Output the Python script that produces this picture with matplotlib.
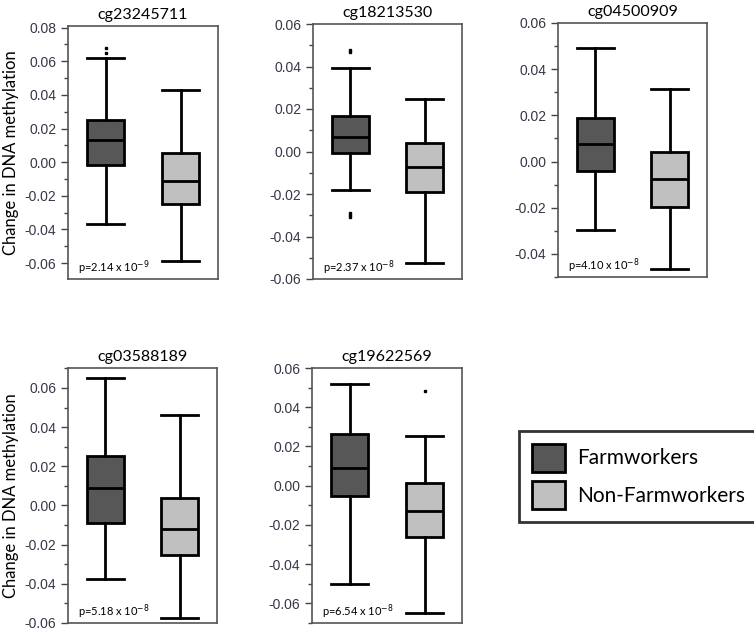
import numpy as np
import matplotlib
matplotlib.use('Agg')
import matplotlib.pyplot as plt
from matplotlib.patches import Patch
from matplotlib.ticker import MultipleLocator

plt.rcParams['font.family'] = 'Liberation Sans'

# probes, p-values and box statistics
probes = ['cg23245711', 'cg18213530', 'cg04500909', 'cg03588189', 'cg19622569']
p_labels = ['p=2.14 x 10$^{-9}$', 'p=2.37 x 10$^{-8}$', 'p=4.10 x 10$^{-8}$',
            'p=5.18 x 10$^{-8}$', 'p=6.54 x 10$^{-8}$']
groups = ['Farmworkers', 'Non-Farmworkers']

farm_whislo = [-0.037, -0.018, -0.0295, -0.0375, -0.050]
farm_q1 = [-0.0015, -0.0005, -0.004, -0.009, -0.005]
farm_med = [0.013, 0.007, 0.0075, 0.009, 0.009]
farm_q3 = [0.025, 0.0165, 0.019, 0.0255, 0.0265]
farm_whishi = [0.062, 0.0395, 0.049, 0.065, 0.052]
farm_fliers = [[0.068, 0.065], [0.047, 0.048, -0.029, -0.030, -0.031], [], [], []]

non_whislo = [-0.059, -0.0525, -0.0465, -0.0575, -0.065]
non_q1 = [-0.025, -0.019, -0.0195, -0.0255, -0.026]
non_med = [-0.011, -0.0075, -0.0075, -0.012, -0.013]
non_q3 = [0.0055, 0.004, 0.004, 0.004, 0.0015]
non_whishi = [0.043, 0.0245, 0.0315, 0.046, 0.0255]
non_fliers = [[], [], [], [], [0.0485]]

ylims = [(-0.0695, 0.081), (-0.06, 0.06), (-0.05, 0.06), (-0.06, 0.0702), (-0.07, 0.06)]
colors = ['#575757', '#c0c0c0']

W, H = 754, 634
# axes boxes in pixels: left, right, top, bottom
boxes_px = [(68, 218, 26, 279), (313, 462, 24, 279), (558, 707, 23, 277),
            (68, 217, 368, 623), (312, 462, 368, 623)]

fig = plt.figure(figsize=(W / 100, H / 100), dpi=100)

tick_color = '#3a3548'

for i, (l, r, t, b) in enumerate(boxes_px):
    ax = fig.add_axes([l / W, 1 - b / H, (r - l) / W, (b - t) / H])
    stats = [
        dict(whislo=farm_whislo[i], q1=farm_q1[i], med=farm_med[i],
             q3=farm_q3[i], whishi=farm_whishi[i], fliers=farm_fliers[i]),
        dict(whislo=non_whislo[i], q1=non_q1[i], med=non_med[i],
             q3=non_q3[i], whishi=non_whishi[i], fliers=non_fliers[i]),
    ]
    bp = ax.bxp(stats, positions=[1, 2], widths=0.5, capwidths=0.5,
                patch_artist=True, showfliers=True,
                boxprops=dict(linewidth=2, edgecolor='black'),
                medianprops=dict(color='black', linewidth=2),
                whiskerprops=dict(color='black', linewidth=2),
                capprops=dict(color='black', linewidth=2),
                flierprops=dict(marker='s', markersize=1.6,
                                markerfacecolor='black', markeredgecolor='black'))
    for patch, c in zip(bp['boxes'], colors):
        patch.set_facecolor(c)

    ax.set_xlim(0.5, 2.5)
    ax.set_ylim(*ylims[i])
    ax.set_xticks([])
    ax.yaxis.set_major_locator(MultipleLocator(0.02))
    ax.yaxis.set_minor_locator(MultipleLocator(0.01))
    ax.yaxis.set_major_formatter(matplotlib.ticker.FuncFormatter(lambda v, p: f'{v:.2f}'))
    ax.tick_params(axis='y', which='major', length=5, width=1, colors='#444444',
                   labelcolor=tick_color, labelsize=10)
    ax.tick_params(axis='y', which='minor', length=3, width=1, colors='#444444')
    for s in ax.spines.values():
        s.set_color('#555555')
        s.set_linewidth(1.2)

    ax.set_title(probes[i], fontsize=11.5, family='Lato', pad=5)
    ax.text(0.07, 0.045, p_labels[i], transform=ax.transAxes, fontsize=8,
            family='Lato', ha='left', va='center')
    if i in (0, 3):
        ax.set_ylabel('Change in DNA methylation', fontsize=12, family='Lato',
                      labelpad=4)

handles = [Patch(facecolor=c, edgecolor='black', linewidth=2) for c in colors]
leg = fig.legend(handles, groups, loc='upper left',
                 bbox_to_anchor=(519 / W, 1 - 431 / H),
                 prop=dict(family='Lato', size=15),
                 frameon=True, fancybox=False, handlelength=1.6, handleheight=1.7,
                 handletextpad=0.6, borderpad=0.6, labelspacing=0.45,
                 borderaxespad=0)
leg.get_frame().set_edgecolor('black')
leg.get_frame().set_linewidth(2)

fig.savefig('out.png', dpi=100, facecolor='white')
